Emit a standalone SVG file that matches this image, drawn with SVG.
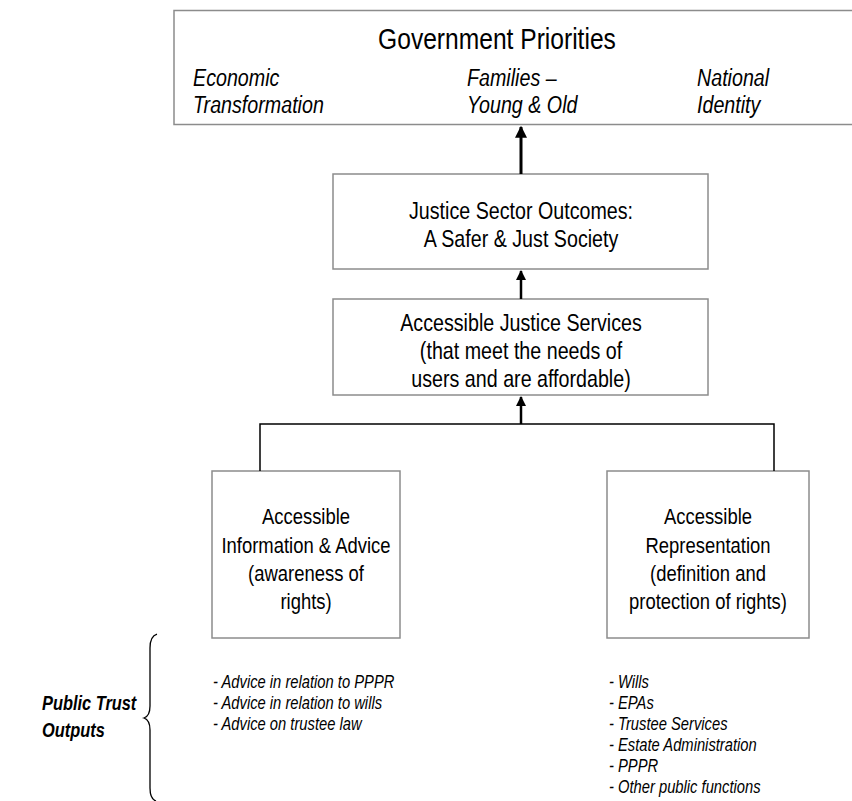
<svg xmlns="http://www.w3.org/2000/svg" width="852" height="801" viewBox="0 0 852 801">
<defs>
<style>
.box{fill:#fff;stroke:#8c8c8c;stroke-width:1.5}
.t{font-family:"Liberation Sans",Arial,sans-serif;fill:#000}
.c{text-anchor:middle}
.i{font-style:italic}
.ln{stroke:#000;fill:none}
</style>
<marker id="ah" viewBox="0 0 10 10" refX="9" refY="5" markerWidth="4" markerHeight="4" orient="auto" markerUnits="strokeWidth">
<path d="M0,0 L10,5 L0,10 z" fill="#000"/>
</marker>
</defs>
<rect width="852" height="801" fill="#fff"/>

<g id="gov">
<rect class="box" x="174" y="10.5" width="690" height="114"/>
<g transform="scale(0.82,1)">
<text class="t c" x="606.1" y="49" font-size="30">Government Priorities</text>
<text class="t i" x="235.4" y="86" font-size="24">Economic</text>
<text class="t i" x="235.4" y="113" font-size="24">Transformation</text>
<text class="t i" x="569.5" y="86" font-size="24">Families –</text>
<text class="t i" x="569.5" y="113" font-size="24">Young &amp; Old</text>
<text class="t i" x="850" y="86" font-size="24">National</text>
<text class="t i" x="850" y="113" font-size="24">Identity</text>
</g>
</g>

<g id="outcomes">
<rect class="box" x="333" y="174" width="375" height="95"/>
<g transform="scale(0.82,1)">
<text class="t c" x="635.4" y="219" font-size="24">Justice Sector Outcomes:</text>
<text class="t c" x="635.4" y="247" font-size="24">A Safer &amp; Just Society</text>
</g>
</g>

<g id="services">
<rect class="box" x="333" y="299" width="375" height="96"/>
<g transform="scale(0.82,1)">
<text class="t c" x="635.4" y="331" font-size="24">Accessible Justice Services</text>
<text class="t c" x="635.4" y="359" font-size="24">(that meet the needs of</text>
<text class="t c" x="635.4" y="387" font-size="24">users and are affordable)</text>
</g>
</g>

<g id="info">
<rect class="box" x="212" y="471" width="188" height="167"/>
<g transform="scale(0.82,1)">
<text class="t c" x="373.2" y="524" font-size="22.5">Accessible</text>
<text class="t c" x="373.2" y="553" font-size="22.5">Information &amp; Advice</text>
<text class="t c" x="373.2" y="581" font-size="22.5">(awareness of</text>
<text class="t c" x="373.2" y="609" font-size="22.5">rights)</text>
</g>
</g>

<g id="representation">
<rect class="box" x="607" y="471" width="202" height="167"/>
<g transform="scale(0.82,1)">
<text class="t c" x="863.4" y="524" font-size="22.5">Accessible</text>
<text class="t c" x="863.4" y="553" font-size="22.5">Representation</text>
<text class="t c" x="863.4" y="581" font-size="22.5">(definition and</text>
<text class="t c" x="863.4" y="609" font-size="22.5">protection of rights)</text>
</g>
</g>

<g id="info-outputs">
<g transform="scale(0.82,1)">
<text class="t i" x="259.8" y="688" font-size="18">- Advice in relation to PPPR</text>
<text class="t i" x="259.8" y="709" font-size="18">- Advice in relation to wills</text>
<text class="t i" x="259.8" y="730" font-size="18">- Advice on trustee law</text>
</g>
</g>

<g id="rep-outputs">
<g transform="scale(0.82,1)">
<text class="t i" x="742.7" y="688" font-size="18">- Wills</text>
<text class="t i" x="742.7" y="709" font-size="18">- EPAs</text>
<text class="t i" x="742.7" y="730" font-size="18">- Trustee Services</text>
<text class="t i" x="742.7" y="751" font-size="18">- Estate Administration</text>
<text class="t i" x="742.7" y="772" font-size="18">- PPPR</text>
<text class="t i" x="742.7" y="793" font-size="18">- Other public functions</text>
</g>
</g>

<g id="public-trust">
<g transform="scale(0.82,1)">
<text class="t i" x="51.2" y="710" font-size="20" font-weight="bold">Public Trust</text>
<text class="t i" x="51.2" y="737" font-size="20" font-weight="bold">Outputs</text>
</g>
<path class="ln" stroke-width="1.3" d="M157,634 Q150,636 150,648 L150,706 Q150,716 144,718 Q150,720 150,730 L150,788 Q150,799 156,801"/>
</g>

<g id="connectors">
<line class="ln" x1="521" y1="174" x2="521" y2="127" stroke-width="3" marker-end="url(#ah)"/>
<line class="ln" x1="521" y1="299" x2="521" y2="271" stroke-width="2.5" marker-end="url(#ah)"/>
<line class="ln" x1="521" y1="424" x2="521" y2="397" stroke-width="2.5" marker-end="url(#ah)"/>
<polyline class="ln" stroke-width="1.5" points="260,471 260,424 774,424 774,471"/>
</g>
</svg>
